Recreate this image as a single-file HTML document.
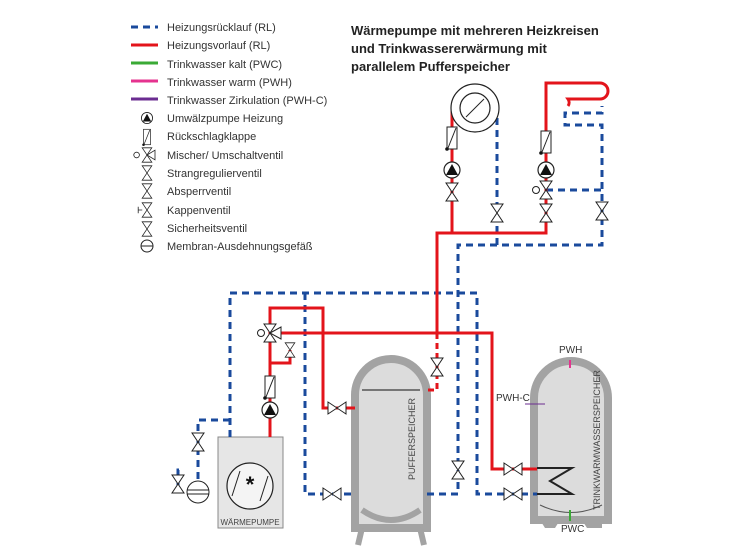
<!DOCTYPE html>
<html><head><meta charset="utf-8"><style>
body{margin:0;background:#fff;}
svg{display:block;font-family:"Liberation Sans",sans-serif;}
</style></head><body>
<svg width="750" height="556" viewBox="0 0 750 556" xmlns="http://www.w3.org/2000/svg">
<defs>
<g id="valve"><path d="M-6,-9 L6,-9 L-6,9 L6,9 Z" fill="#fff" stroke="#222" stroke-width="1"/></g>
<g id="hvalve"><path d="M-9,-6 L-9,6 L9,-6 L9,6 Z" fill="#fff" stroke="#222" stroke-width="1"/></g>
<g id="pump"><circle r="8" fill="#fff" stroke="#222" stroke-width="1.2"/><path d="M-6,5 L0,-6 L6,5 Z" fill="#111"/></g>
<g id="check"><rect x="-5" y="-11" width="10" height="22" fill="#fff" stroke="#222"/><path d="M-4,10 L4,-10" stroke="#222"/><circle cx="-5" cy="11" r="1.8" fill="#111"/></g>
</defs>
<g font-size="11" fill="#333">
<text x="167" y="31">Heizungsrücklauf (RL)</text>
<text x="167" y="49">Heizungsvorlauf (RL)</text>
<text x="167" y="68">Trinkwasser kalt (PWC)</text>
<text x="167" y="86">Trinkwasser warm (PWH)</text>
<text x="167" y="104">Trinkwasser Zirkulation (PWH-C)</text>
<text x="167" y="122">Umwälzpumpe Heizung</text>
<text x="167" y="140">Rückschlagklappe</text>
<text x="167" y="159">Mischer/ Umschaltventil</text>
<text x="167" y="177">Strangregulierventil</text>
<text x="167" y="195">Absperrventil</text>
<text x="167" y="214">Kappenventil</text>
<text x="167" y="232">Sicherheitsventil</text>
<text x="167" y="250">Membran-Ausdehnungsgefäß</text>
</g>
<line x1="131" y1="27" x2="158" y2="27" stroke="#1a4a9c" stroke-width="3" stroke-dasharray="7,5"/>
<line x1="131" y1="45" x2="158" y2="45" stroke="#e3141b" stroke-width="3"/>
<line x1="131" y1="63" x2="158" y2="63" stroke="#3aaa35" stroke-width="3"/>
<line x1="131" y1="81" x2="158" y2="81" stroke="#e5338f" stroke-width="3"/>
<line x1="131" y1="99" x2="158" y2="99" stroke="#6b2c91" stroke-width="3"/>
<use href="#pump" x="147" y="118" transform="translate(147 118) scale(.7) translate(-147 -118)"/>
<g transform="translate(147 137) scale(.7)"><use href="#check"/></g>
<g transform="translate(147 155) scale(.8)"><use href="#valve"/><path d="M0,0 L10,-6 L10,6Z" fill="#fff" stroke="#222"/><circle cx="-13" cy="0" r="3.5" fill="#fff" stroke="#222"/></g>
<g transform="translate(147 173) scale(.8)"><use href="#valve"/></g>
<g transform="translate(147 191) scale(.8)"><use href="#valve"/></g>
<g transform="translate(147 210) scale(.8)"><use href="#valve"/><path d="M-6,0 L-11,0 M-11,-4 L-11,4" stroke="#222"/></g>
<g transform="translate(147 229) scale(.8)"><use href="#valve"/></g>
<circle cx="147" cy="246" r="6" fill="#fff" stroke="#222"/><line x1="141" y1="246" x2="153" y2="246" stroke="#222"/>
<g font-size="13" font-weight="bold" fill="#222">
<text x="351" y="35">Wärmepumpe mit mehreren Heizkreisen</text>
<text x="351" y="53">und Trinkwassererwärmung mit</text>
<text x="351" y="71">parallelem Pufferspeicher</text>
</g>
<!-- tanks -->
<path d="M355,528 L355,395 A36,36 0 0 1 427,395 L427,528 Z" fill="#dcdcdc" stroke="#a3a3a3" stroke-width="8"/>
<line x1="362" y1="390" x2="420" y2="390" stroke="#555" stroke-width="1.5"/>
<path d="M362,510 Q391,530 420,510" fill="none" stroke="#a3a3a3" stroke-width="6"/>
<path d="M362,528 L358,545 M420,528 L424,545" stroke="#a3a3a3" stroke-width="6"/>
<text transform="translate(415 480) rotate(-90)" font-size="9" fill="#444">PUFFERSPEICHER</text>
<path d="M534,520 L534,398 A37,37 0 0 1 608,398 L608,520 Z" fill="#dcdcdc" stroke="#a3a3a3" stroke-width="8"/>
<path d="M540,505 Q571,520 602,505" fill="none" stroke="#555" stroke-width="1"/>
<path d="M540,520 L560,520 L555,528 L545,528Z M582,520 L602,520 L602,528 L587,528Z" fill="#a3a3a3"/>
<text transform="translate(600 510) rotate(-90)" font-size="9" fill="#444">TRINKWARMWASSERSPEICHER</text>
<path d="M537,468 L572,468 L550,481 L572,494 L537,494" fill="none" stroke="#222" stroke-width="2"/>
<line x1="570" y1="360" x2="570" y2="368" stroke="#e5338f" stroke-width="2"/>
<line x1="570" y1="510" x2="570" y2="521" stroke="#3aaa35" stroke-width="2"/>
<line x1="525" y1="404" x2="545" y2="404" stroke="#6b2c91" stroke-width="1"/>
<g font-size="10" fill="#333"><text x="559" y="353">PWH</text><text x="561" y="532">PWC</text><text x="496" y="401">PWH-C</text></g>
<!-- WP -->
<rect x="218" y="437" width="65" height="91" fill="#e6e6e6" stroke="#888"/>
<circle cx="250" cy="486" r="23" fill="#f4f4f4" stroke="#222" stroke-width="1.2"/>
<path d="M232,496 L240,471 M268,476 L260,501" stroke="#222"/>
<text x="250" y="492" font-size="22" text-anchor="middle" font-weight="bold" fill="#111">*</text>
<text x="250" y="525" font-size="8" text-anchor="middle" fill="#444">WÄRMEPUMPE</text>
<!-- blue dashed -->
<g fill="none" stroke="#1a4a9c" stroke-width="3" stroke-dasharray="7,5">
<path d="M230,437 L230,293 L477,293 L477,494 L537,494"/>
<path d="M305,293 L305,494 L355,494"/>
<path d="M427,494 L458,494 L458,245 L602,245 L602,125 L565,125 L565,113 L602,113 L602,106"/>
<path d="M497,245 L497,113"/>
<path d="M546,190 L602,190"/>
<path d="M230,420 L198,420 L198,482"/>
<path d="M178,488 L178,470 L183,470"/>
</g>
<!-- red -->
<g fill="none" stroke="#e3141b" stroke-width="3">
<path d="M270,437 L270,333 L492,333 L492,469 L537,469"/>
<path d="M270,333 L270,308 L323,308 L323,408 L355,408"/>
<path d="M270,363 L290,363 L290,350"/>
<path d="M437,333 L437,233 L546,233 L546,83 L600,83 A8,8 0 0 1 600,99 L568,99 A6,6 0 0 1 568,106"/>
<path d="M452,233 L452,108"/>
<path d="M437,333 L437,390 L427,390" stroke-dasharray="6,4"/>
</g>
<circle cx="475" cy="108" r="24" fill="#fff" stroke="#222" stroke-width="1.2"/>
<circle cx="475" cy="108" r="15" fill="#fff" stroke="#222" stroke-width="1.2"/>
<line x1="466" y1="117" x2="484" y2="99" stroke="#222"/>
<!-- symbols -->
<use href="#check" x="452" y="138"/><use href="#pump" x="452" y="170"/><use href="#valve" x="452" y="192"/>
<use href="#valve" x="497" y="213"/>
<use href="#check" x="546" y="142"/><use href="#pump" x="546" y="170"/><use href="#valve" x="546" y="190"/>
<circle cx="536" cy="190" r="3.5" fill="#fff" stroke="#222"/><use href="#valve" x="546" y="213"/><use href="#valve" x="602" y="211"/>
<use href="#valve" x="270" y="333"/><path d="M270,333 L281,327 L281,339Z" fill="#fff" stroke="#222"/><circle cx="261" cy="333" r="3.5" fill="#fff" stroke="#222"/>
<use href="#valve" x="290" y="350" transform="translate(290 350) scale(.8) translate(-290 -350)"/>
<use href="#check" x="270" y="387"/><use href="#pump" x="270" y="410"/>
<use href="#hvalve" x="337" y="408"/><use href="#hvalve" x="332" y="494"/>
<use href="#valve" x="437" y="367"/><use href="#valve" x="458" y="470"/>
<use href="#hvalve" x="513" y="469"/><use href="#hvalve" x="513" y="494"/>
<use href="#valve" x="198" y="442"/><use href="#valve" x="178" y="484"/>
<circle cx="198" cy="492" r="11" fill="#fff" stroke="#222"/><line x1="187" y1="490" x2="209" y2="490" stroke="#222"/><line x1="187" y1="494" x2="209" y2="494" stroke="#222"/>
</svg>
</body></html>
